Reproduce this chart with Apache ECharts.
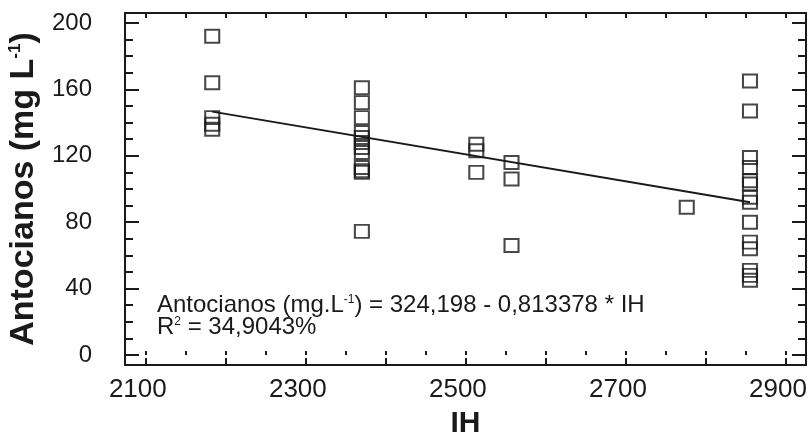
<!DOCTYPE html>
<html>
<head>
<meta charset="utf-8">
<script src="https://cdn.jsdelivr.net/npm/echarts@6/dist/echarts.min.js"></script>
<style>
html,body{margin:0;padding:0;background:#fff;}
#c{width:808px;height:433px;}
</style>
</head>
<body>
<div id="c"></div>
<script>
// ---- data ----
const columnsIH = [2183, 2370, 2513, 2557, 2776, 2855];
const antCol1 = [192, 164, 143, 139, 136];
const antCol2 = [161, 152, 143, 134, 131, 128, 125, 122, 113, 111, 110, 74.5];
const antCol3 = [127, 123, 110];
const antCol4 = [116, 106, 66];
const antCol5 = [89];
const antCol6 = [165, 147, 119, 113, 105, 103, 95, 92, 80, 68, 64, 51, 48, 45];
const fitIH = [2183, 2855];
const fitAnt = [146.6, 92.0];
const xTicks = [2100, 2300, 2500, 2700, 2900];
const yTicks = [0, 40, 80, 120, 160, 200];
const xTitle = 'IH';
const yTitle = 'Antocianos (mg L{s|-1})';
const eqLine1 = ['Antocianos (mg.L', '-1', ') = 324,198 - 0,813378 * IH'];
const eqLine2 = ['R', '2', ' = 34,9043%'];

const cols = [antCol1, antCol2, antCol3, antCol4, antCol5, antCol6];
const scatterData = [];
cols.forEach((arr, i) => arr.forEach(v => scatterData.push([columnsIH[i], v])));
const fitData = fitIH.map((x, i) => [x, fitAnt[i]]);

const FONT = '"Liberation Sans", Arial, sans-serif';
const INK = '#1a1a1a';
const X_MIN = 2074, X_MAX = 2925, Y_MIN = -6, Y_MAX = 206;

function xAx(opt) {
  return Object.assign({
    type: 'value', min: X_MIN, max: X_MAX, gridIndex: 0,
    splitLine: {show: false},
    axisLine: {show: true, onZero: false, lineStyle: {color: INK, width: 2}},
    axisTick: {show: true, inside: true, length: 7, lineStyle: {color: INK, width: 2}},
    axisLabel: {show: false}
  }, opt);
}
function yAx(opt) {
  return Object.assign({
    type: 'value', min: Y_MIN, max: Y_MAX, gridIndex: 0,
    splitLine: {show: false},
    axisLine: {show: true, onZero: false, lineStyle: {color: INK, width: 2}},
    axisTick: {show: true, inside: true, length: 14, lineStyle: {color: INK, width: 2}},
    axisLabel: {show: false}
  }, opt);
}

const option = {
  backgroundColor: '#fff',
  animation: false,
  grid: {left: 125, right: 2, top: 13, bottom: 68, containLabel: false, outerBoundsMode: 'none'},
  xAxis: [
    xAx({position: 'bottom', minInterval: 100, maxInterval: 100,
      name: xTitle, nameLocation: 'middle', nameGap: 44,
      nameTextStyle: {fontFamily: FONT, fontWeight: 'bold', fontSize: 30, color: INK},
      axisLabel: {show: true, margin: 12, fontFamily: FONT, fontSize: 26, color: INK,
        padding: [0, 16, 0, 0],
        formatter: v => xTicks.includes(v) ? String(v) : ''}}),
    xAx({position: 'bottom', minInterval: 50, maxInterval: 50, axisLine: {show: false},
      axisTick: {show: true, inside: true, length: 4, lineStyle: {color: INK, width: 2}}}),
    xAx({position: 'top', minInterval: 50, maxInterval: 50,
      axisTick: {show: true, inside: true, length: 5, lineStyle: {color: INK, width: 2}}})
  ],
  yAxis: [
    yAx({position: 'left', minInterval: 40, maxInterval: 40,
      name: yTitle, nameLocation: 'middle', nameGap: 72, nameRotate: 90,
      nameTextStyle: {fontFamily: FONT, fontWeight: 'bold', fontSize: 34, color: INK,
        rich: {s: {fontFamily: FONT, fontWeight: 'bold', fontSize: 17, verticalAlign: 'top', color: INK}}},
      axisLabel: {show: true, margin: 33, fontFamily: FONT, fontSize: 24, color: INK,
        formatter: v => yTicks.includes(v) ? String(v) : ''}}),
    yAx({position: 'left', minInterval: 10, maxInterval: 10, axisLine: {show: false},
      axisTick: {show: true, inside: true, length: 8, lineStyle: {color: INK, width: 2}}}),
    yAx({position: 'right', minInterval: 40, maxInterval: 40}),
    yAx({position: 'right', minInterval: 10, maxInterval: 10, axisLine: {show: false},
      axisTick: {show: true, inside: true, length: 8, lineStyle: {color: INK, width: 2}}})
  ],
  series: [
    {
      type: 'line', xAxisIndex: 0, yAxisIndex: 0, data: fitData,
      showSymbol: false, symbol: 'none',
      lineStyle: {color: INK, width: 2}, z: 3
    },
    {
      type: 'scatter', xAxisIndex: 0, yAxisIndex: 0, data: scatterData,
      symbol: 'rect', symbolSize: [14, 13],
      itemStyle: {color: 'rgba(0,0,0,0)', borderColor: INK, borderWidth: 2},
      z: 4
    }
  ],
  graphic: [
    {
      type: 'text', left: 157, top: 293, z: 10,
      style: {
        text: '{a|' + eqLine1[0] + '}{s|' + eqLine1[1] + '}{a|' + eqLine1[2] + '}\n' +
              '{a|' + eqLine2[0] + '}{s|' + eqLine2[1] + '}{a|' + eqLine2[2] + '}',
        fill: INK,
        rich: {
          a: {fontFamily: FONT, fontSize: 24, lineHeight: 22, fill: INK, color: INK},
          s: {fontFamily: FONT, fontSize: 12, lineHeight: 22, verticalAlign: 'top', fill: INK, color: INK}
        }
      }
    }
  ]
};

const chart = echarts.init(document.getElementById('c'), null, {renderer: 'canvas'});
chart.setOption(option);
</script>
</body>
</html>
